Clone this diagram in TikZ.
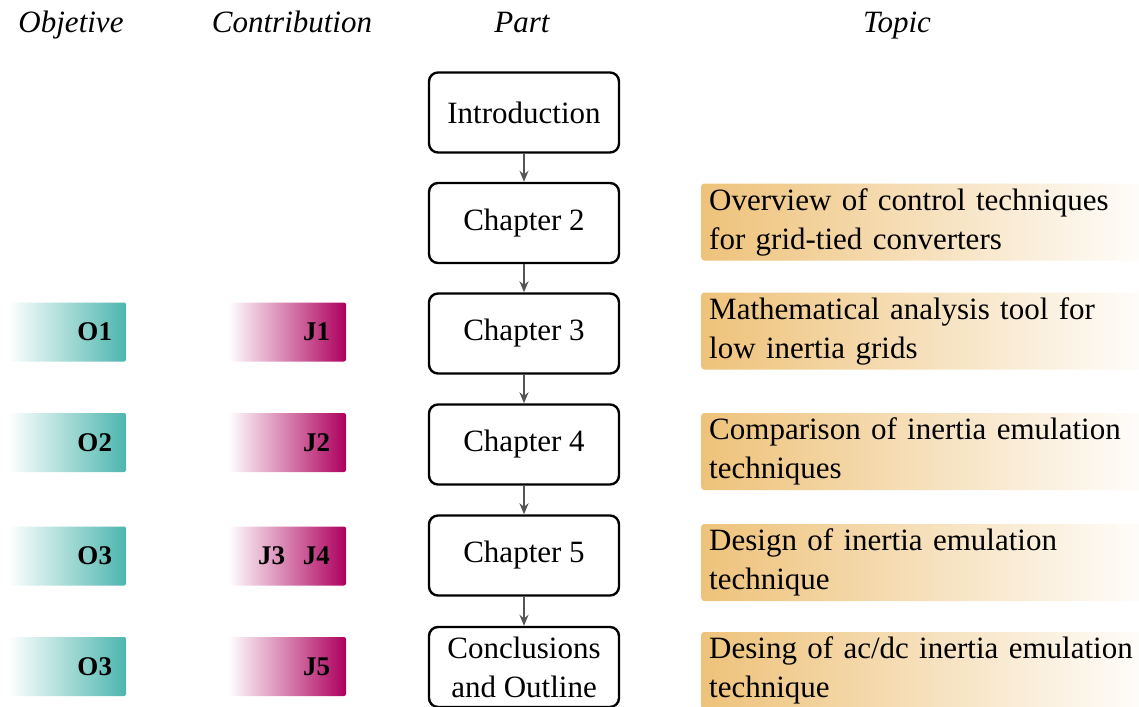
\documentclass[tikz,border=0pt]{standalone}
\usepackage{fontspec}
\setmainfont{Liberation Serif}
\usetikzlibrary{arrows.meta}

\definecolor{objteal}{HTML}{4DB6AE}
\definecolor{contmag}{HTML}{AD005E}
\definecolor{topicorange}{HTML}{EEC27A}
\definecolor{arrowgray}{HTML}{555555}

\begin{document}
\begin{tikzpicture}[x=1pt, y=-1pt,
  head/.style={anchor=base, font=\fontsize{31}{36}\selectfont\itshape},
  part/.style={rectangle, draw, line width=2.4pt, rounded corners=9pt, fill=white, minimum width=190pt, minimum height=80pt, align=center, font=\fontsize{31}{39}\selectfont},
  objective/.style={rectangle, rounded corners=2pt, left color=white, right color=objteal, minimum width=118pt, minimum height=59pt, inner xsep=14pt, text width=90pt, align=right, font=\fontsize{27}{32}\selectfont\bfseries},
  contrib/.style={rectangle, rounded corners=2pt, left color=white, right color=contmag, minimum width=118pt, minimum height=59pt, inner xsep=16pt, text width=86pt, align=right, font=\fontsize{27}{32}\selectfont\bfseries},
  topic/.style={rectangle, rounded corners=3pt, left color=topicorange, right color=white, anchor=west, minimum height=77pt, inner xsep=8pt, inner ysep=1pt, text width=440pt, align=left, font=\fontsize{31}{39}\selectfont},
  arrow/.style={-{Stealth[length=11pt, width=9pt]}, line width=1.8pt, arrowgray}
]
  \useasboundingbox (0,0) rectangle (1139,706);

  \node[head] (hobj) at (71,33) {Objetive};
  \node[head] (hcon) at (292,33) {Contribution};
  \node[head] (hpart) at (522,33) {Part};
  \node[head] (htopic) at (897,33) {Topic};

  \node[part] (intro) at (524,112.5) {Introduction};
  \node[part] (ch2) at (524,223) {Chapter 2};
  \node[part] (ch3) at (524,333.5) {Chapter 3};
  \node[part] (ch4) at (524,444.5) {Chapter 4};
  \node[part] (ch5) at (524,555.5) {Chapter 5};
  \node[part] (concl) at (524,667) {Conclusions\\and Outline};

  \node[objective] (obj1) at (67,332) {O1};
  \node[objective] (obj2) at (67,442.5) {O2};
  \node[objective] (obj3) at (67,556) {O3};
  \node[objective] (obj4) at (67,666.5) {O3};

  \node[contrib] (con1) at (287,332) {J1};
  \node[contrib] (con2) at (287,442.5) {J2};
  \node[contrib] (con3) at (287,556) {J3~~J4};
  \node[contrib] (con4) at (287,666.5) {J5};

  \node[topic] (top2) at (701,222) {Overview of control techniques\\for grid-tied converters};
  \node[topic] (top3) at (701,331) {Mathematical analysis tool for\\low inertia grids};
  \node[topic] (top4) at (701,451.5) {Comparison of inertia emulation\\techniques};
  \node[topic] (top5) at (701,562.5) {Design of inertia emulation\\technique};
  \node[topic] (top6) at (701,670.5) {Desing of ac/dc inertia emulation\\technique};

  \draw[arrow] (intro) -- (ch2);
  \draw[arrow] (ch2) -- (ch3);
  \draw[arrow] (ch3) -- (ch4);
  \draw[arrow] (ch4) -- (ch5);
  \draw[arrow] (ch5) -- (concl);
\end{tikzpicture}
\end{document}
